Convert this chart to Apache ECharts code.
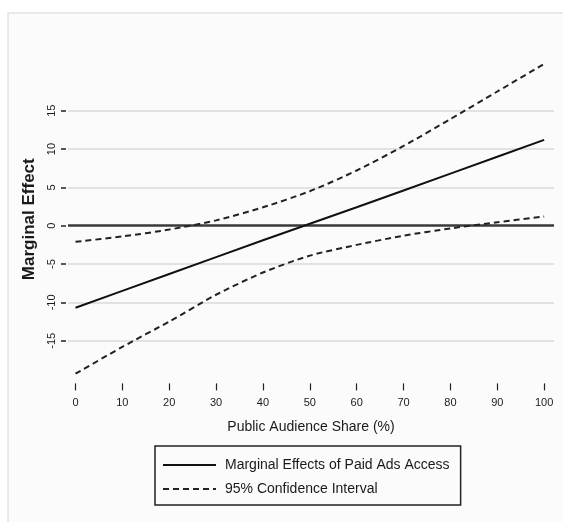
<!DOCTYPE html>
<html>
<head>
<meta charset="utf-8">
<script src="https://cdn.jsdelivr.net/npm/echarts@6/dist/echarts.min.js"></script>
<style>
  html, body { margin: 0; padding: 0; background: #ffffff; }
  #chart { width: 563px; height: 522px; }
</style>
</head>
<body>
<div id="chart"></div>
<script>
// Public audience share (%) at which the marginal effect is evaluated
const shareValues = [0, 10, 20, 30, 40, 50, 60, 70, 80, 90, 100];
// Marginal effect of paid ads access
const marginalEffect = [-10.7, -8.5, -6.3, -4.1, -1.9, 0.25, 2.4, 4.6, 6.8, 9.0, 11.2];
// 95% confidence bounds
const upperBound = [-2.1, -1.4, -0.5, 0.7, 2.4, 4.5, 7.2, 10.4, 13.9, 17.5, 21.1];
const lowerBound = [-19.3, -15.8, -12.5, -9.0, -6.1, -3.9, -2.5, -1.3, -0.35, 0.45, 1.2];
// Axis ticks
const xTickValues = [0, 10, 20, 30, 40, 50, 60, 70, 80, 90, 100];
const yTickValues = [-15, -10, -5, 0, 5, 10, 15];
const referenceLevel = 0;

const FONT = "'Liberation Sans', Arial, sans-serif";
const pairs = (ys) => shareValues.map((x, i) => [x, ys[i]]);

const chart = echarts.init(document.getElementById('chart'), null, { renderer: 'canvas' });

const gridLines = yTickValues
  .filter(v => v !== referenceLevel)
  .map(v => ({ yAxis: v, lineStyle: { color: '#dadada', width: 1.5, type: 'solid' } }));
gridLines.push({ yAxis: referenceLevel, lineStyle: { color: '#3a3a3a', width: 2.5, type: 'solid' } });

chart.setOption({
  animation: false,
  backgroundColor: '#ffffff',
  graphic: [
    { type: 'rect', silent: true, z: -10,
      shape: { x: 8, y: 13, width: 580, height: 540 },
      style: { fill: '#fbfbfb', stroke: '#e4e4e4', lineWidth: 1.5 } }
  ],
  grid: { left: 68, right: 9, top: 57, bottom: 140.6 },
  xAxis: {
    type: 'value',
    min: -1.6,
    max: 102.1,
    offset: 2,
    axisLine: { show: false, onZero: false },
    splitLine: { show: false },
    axisTick: { show: true, length: 7, customValues: xTickValues,
      lineStyle: { color: '#222', width: 1.2 } },
    axisLabel: { customValues: xTickValues, margin: 14, fontFamily: FONT,
      fontSize: 11, color: '#1a1a1a' },
    name: 'Public Audience Share (%)',
    nameLocation: 'middle',
    nameGap: 37,
    nameTextStyle: { fontFamily: FONT, fontSize: 14, color: '#1a1a1a' }
  },
  yAxis: {
    type: 'value',
    min: -20.3,
    max: 22,
    offset: 2,
    axisLine: { show: false, onZero: false },
    splitLine: { show: false },
    axisTick: { show: true, length: 5, customValues: yTickValues,
      lineStyle: { color: '#222', width: 1.5 } },
    axisLabel: { customValues: yTickValues, rotate: 90, margin: 9, fontFamily: FONT,
      fontSize: 11, color: '#1a1a1a' },
    name: 'Marginal Effect',
    nameLocation: 'middle',
    nameGap: 28,
    nameTextStyle: { fontFamily: FONT, fontSize: 17, fontWeight: 'bold', color: '#1a1a1a' }
  },
  legend: {
    orient: 'vertical',
    left: 155,
    top: 446,
    padding: [12, 11, 9, 7],
    itemWidth: 53,
    itemHeight: 14,
    itemGap: 10,
    borderColor: '#222',
    borderWidth: 1.5,
    itemStyle: { opacity: 0 },
    textStyle: { fontFamily: FONT, fontSize: 14, color: '#1a1a1a', padding: [0, 0, 0, 4] },
    data: ['Marginal Effects of Paid Ads Access', '95% Confidence Interval']
  },
  series: [
    {
      name: 'Marginal Effects of Paid Ads Access',
      type: 'line',
      data: pairs(marginalEffect),
      showSymbol: false,
      symbol: 'none',
      z: 3,
      lineStyle: { color: '#111', width: 2 },
      itemStyle: { color: '#111' },
      markLine: {
        silent: true,
        symbol: 'none',
        z: 1,
        label: { show: false },
        data: gridLines
      }
    },
    {
      name: '95% Confidence Interval',
      type: 'line',
      data: pairs(upperBound),
      showSymbol: false,
      symbol: 'none',
      smooth: 0.25,
      z: 3,
      lineStyle: { color: '#222', width: 2, type: [6, 4] },
      itemStyle: { color: '#222' }
    },
    {
      name: '95% Confidence Interval',
      type: 'line',
      data: pairs(lowerBound),
      showSymbol: false,
      symbol: 'none',
      smooth: 0.25,
      z: 3,
      lineStyle: { color: '#222', width: 2, type: [6, 4] },
      itemStyle: { color: '#222' }
    }
  ]
});
</script>
</body>
</html>
